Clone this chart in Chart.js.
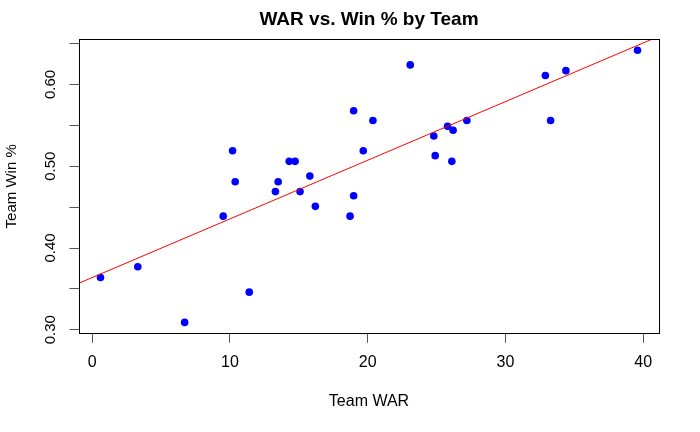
<!DOCTYPE html>
<html>
<head>
<meta charset="utf-8">
<script src="https://cdn.jsdelivr.net/npm/chart.js@4/dist/chart.umd.min.js"></script>
<style>
  html, body { margin: 0; padding: 0; background: #fff; }
  canvas { display: block; }
</style>
</head>
<body>
<canvas id="chart" width="700" height="432"></canvas>
<script>
// team WAR (x) and team win % (y)
const teamWar = [0.60, 3.31, 6.71, 9.51, 10.19, 10.38, 11.40, 13.30, 13.50, 14.30,
  14.73, 15.09, 15.80, 16.20, 18.72, 18.98, 18.98, 19.68, 20.38, 23.09,
  24.80, 24.90, 25.80, 26.20, 26.11, 27.20, 32.90, 33.28, 34.39, 39.59];
const teamWinPct = [0.364, 0.377, 0.309, 0.439, 0.519, 0.481, 0.346, 0.469, 0.481, 0.506,
  0.506, 0.469, 0.488, 0.451, 0.439, 0.464, 0.568, 0.519, 0.556, 0.624,
  0.537, 0.513, 0.549, 0.544, 0.506, 0.556, 0.611, 0.556, 0.617, 0.642];

const xTicks = [0, 10, 20, 30, 40];
const yTicks = [0.30, 0.35, 0.40, 0.45, 0.50, 0.55, 0.60, 0.65];
const yTickLabels = ['0.30', '', '0.40', '', '0.50', '', '0.60', ''];

const chartTitle = 'WAR vs. Win % by Team';
const FONT = "'Liberation Sans', Arial, Helvetica, sans-serif";

// R-style axis limits: data range padded by 4% each side
function padRange(vals) {
  const lo = Math.min(...vals), hi = Math.max(...vals);
  const d = (hi - lo) * 0.04;
  return [lo - d, hi + d];
}
const [xMin, xMax] = padRange(teamWar);
const [yMin, yMax] = padRange(teamWinPct);

// least squares fit, like abline(lm(y ~ x))
const n = teamWar.length;
const mx = teamWar.reduce((a, b) => a + b, 0) / n;
const my = teamWinPct.reduce((a, b) => a + b, 0) / n;
let sxy = 0, sxx = 0;
for (let i = 0; i < n; i++) {
  sxy += (teamWar[i] - mx) * (teamWinPct[i] - my);
  sxx += (teamWar[i] - mx) ** 2;
}
const slope = sxy / sxx;
const intercept = my - slope * mx;

const points = teamWar.map((x, i) => ({ x, y: teamWinPct[i] }));
const fitLine = [xMin, xMax].map(x => ({ x, y: intercept + slope * x }));

// box around the plot region + title centred over it (R's box() and main=)
const boxPlugin = {
  id: 'plotBox',
  afterDraw(chart) {
    const { ctx, chartArea: a } = chart;
    ctx.save();
    ctx.strokeStyle = '#000';
    ctx.lineWidth = 1;
    ctx.strokeRect(Math.round(a.left) + 0.5, Math.round(a.top) + 0.5,
      Math.round(a.right - a.left), Math.round(a.bottom - a.top));
    ctx.fillStyle = '#000';
    ctx.font = 'bold 19px ' + FONT;
    ctx.textAlign = 'center';
    ctx.textBaseline = 'alphabetic';
    ctx.fillText(chartTitle, (a.left + a.right) / 2, 25);
    ctx.restore();
  }
};

new Chart(document.getElementById('chart'), {
  type: 'scatter',
  data: {
    datasets: [
      {
        label: 'fit',
        type: 'line',
        data: fitLine,
        borderColor: '#FF0000',
        borderWidth: 1,
        pointRadius: 0,
        fill: false
      },
      {
        label: 'teams',
        data: points,
        backgroundColor: '#0000FF',
        borderWidth: 0,
        pointRadius: 3.8
      }
    ]
  },
  options: {
    responsive: false,
    animation: false,
    devicePixelRatio: 1,
    layout: { padding: { left: 0, right: 41, top: 39.3, bottom: 0 } },
    plugins: {
      legend: { display: false },
      tooltip: { enabled: false },
      title: { display: false }
    },
    scales: {
      x: {
        type: 'linear',
        min: xMin,
        max: xMax,
        afterBuildTicks: s => { s.ticks = xTicks.map(v => ({ value: v })); },
        afterFit: s => { s.height = 98.7; },
        grid: { drawOnChartArea: false, tickLength: 9.5, tickColor: '#555' },
        border: { display: true, color: '#000' },
        ticks: {
          color: '#000',
          font: { family: FONT, size: 16 },
          padding: 10.5,
          maxRotation: 0,
          autoSkip: false,
          callback: v => String(v)
        },
        title: {
          display: true,
          text: 'Team WAR',
          color: '#000',
          font: { family: FONT, size: 16 },
          padding: { top: 0, bottom: 20.5 }
        }
      },
      y: {
        type: 'linear',
        min: yMin,
        max: yMax,
        afterBuildTicks: s => { s.ticks = yTicks.map(v => ({ value: v })); },
        afterFit: s => { s.width = 79; },
        grid: { drawOnChartArea: false, tickLength: 9.5, tickColor: '#555' },
        border: { display: true, color: '#000' },
        ticks: {
          color: '#000',
          font: { family: FONT, size: 15 },
          padding: 4.5,
          minRotation: 90,
          maxRotation: 90,
          crossAlign: 'center',
          autoSkip: false,
          callback: (v, i) => yTickLabels[i]
        },
        title: {
          display: true,
          text: 'Team Win %',
          color: '#000',
          font: { family: FONT, size: 15 },
          padding: { top: 3, bottom: 0 }
        }
      }
    }
  },
  plugins: [boxPlugin]
});
</script>
</body>
</html>
